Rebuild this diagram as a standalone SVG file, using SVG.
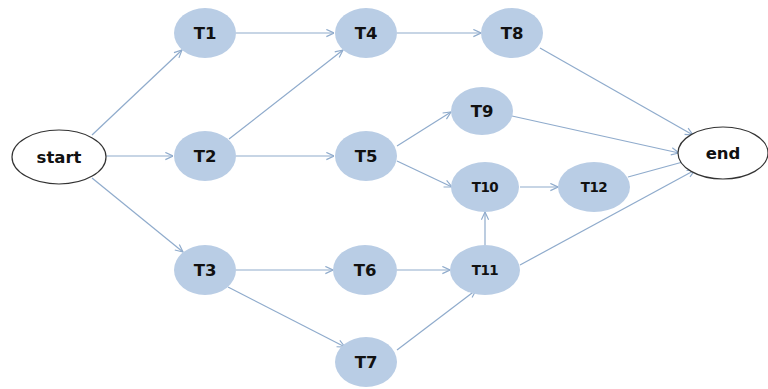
<svg xmlns="http://www.w3.org/2000/svg" width="768" height="389" viewBox="0 0 768 389">
<defs>
<marker id="arr" viewBox="0 0 10 10" refX="9.5" refY="5" markerWidth="9" markerHeight="9" markerUnits="userSpaceOnUse" orient="auto">
<path d="M1,1 L9.5,5 L1,9" fill="none" stroke="#8fabcc" stroke-width="1.3"/>
</marker>
</defs>
<style>
.n{fill:#b9cde5;stroke:none}
.w{fill:#ffffff;stroke:#333333;stroke-width:1.2}
.t{font-family:"DejaVu Sans",Verdana,sans-serif;font-weight:bold;font-size:16.5px;fill:#111111;text-anchor:middle;dominant-baseline:central}
.s{font-size:13.5px;letter-spacing:-0.5px}
.e{stroke:#8fabcc;stroke-width:1.2;fill:none;marker-end:url(#arr)}
</style>
<rect width="768" height="389" fill="#ffffff"/>
<g id="connectors">
<line class="e" x1="92" y1="135" x2="182" y2="50"/>
<line class="e" x1="106" y1="156" x2="173" y2="156"/>
<line class="e" x1="92" y1="178" x2="183" y2="252"/>
<line class="e" x1="236" y1="33" x2="334" y2="33"/>
<line class="e" x1="229" y1="139" x2="343" y2="50"/>
<line class="e" x1="236" y1="156" x2="334" y2="156"/>
<line class="e" x1="236" y1="270" x2="333" y2="270"/>
<line class="e" x1="228" y1="287" x2="345" y2="347"/>
<line class="e" x1="397" y1="33" x2="481" y2="33"/>
<line class="e" x1="540" y1="48" x2="693" y2="135"/>
<line class="e" x1="397" y1="146" x2="451" y2="112"/>
<line class="e" x1="397" y1="161" x2="452" y2="187"/>
<line class="e" x1="512" y1="116" x2="679" y2="153"/>
<line class="e" x1="520" y1="187" x2="558" y2="187"/>
<line class="e" x1="628" y1="177" x2="690" y2="160"/>
<line class="e" x1="485" y1="245" x2="485" y2="212"/>
<line class="e" x1="520" y1="265" x2="695" y2="170"/>
<line class="e" x1="397" y1="270" x2="450" y2="270"/>
<line class="e" x1="397" y1="350" x2="476" y2="290"/>
</g>
<g id="start"><ellipse class="w" cx="59" cy="157" rx="47" ry="27"/><text class="t" x="59" y="157">start</text></g>
<g id="T1"><ellipse class="n" cx="205" cy="33" rx="31" ry="25"/><text class="t" x="205" y="33">T1</text></g>
<g id="T2"><ellipse class="n" cx="205" cy="156" rx="31" ry="25"/><text class="t" x="205" y="156">T2</text></g>
<g id="T3"><ellipse class="n" cx="205" cy="270" rx="31" ry="25"/><text class="t" x="205" y="270">T3</text></g>
<g id="T4"><ellipse class="n" cx="366" cy="33" rx="31" ry="25"/><text class="t" x="366" y="33">T4</text></g>
<g id="T5"><ellipse class="n" cx="366" cy="156" rx="31" ry="25"/><text class="t" x="366" y="156">T5</text></g>
<g id="T6"><ellipse class="n" cx="365" cy="270" rx="32" ry="25"/><text class="t" x="365" y="270">T6</text></g>
<g id="T7"><ellipse class="n" cx="366" cy="362" rx="31" ry="25"/><text class="t" x="366" y="362">T7</text></g>
<g id="T8"><ellipse class="n" cx="512" cy="33" rx="31" ry="25"/><text class="t" x="512" y="33">T8</text></g>
<g id="T9"><ellipse class="n" cx="482" cy="111" rx="31" ry="24"/><text class="t" x="482" y="111">T9</text></g>
<g id="T10"><ellipse class="n" cx="485" cy="187" rx="34" ry="25"/><text class="t s" x="485" y="187">T10</text></g>
<g id="T11"><ellipse class="n" cx="485" cy="270" rx="35" ry="25"/><text class="t s" x="485" y="270">T11</text></g>
<g id="T12"><ellipse class="n" cx="594" cy="187" rx="36" ry="25"/><text class="t s" x="594" y="187">T12</text></g>
<g id="end"><ellipse class="w" cx="723" cy="153" rx="45" ry="26"/><text class="t" x="723" y="153">end</text></g>
</svg>
